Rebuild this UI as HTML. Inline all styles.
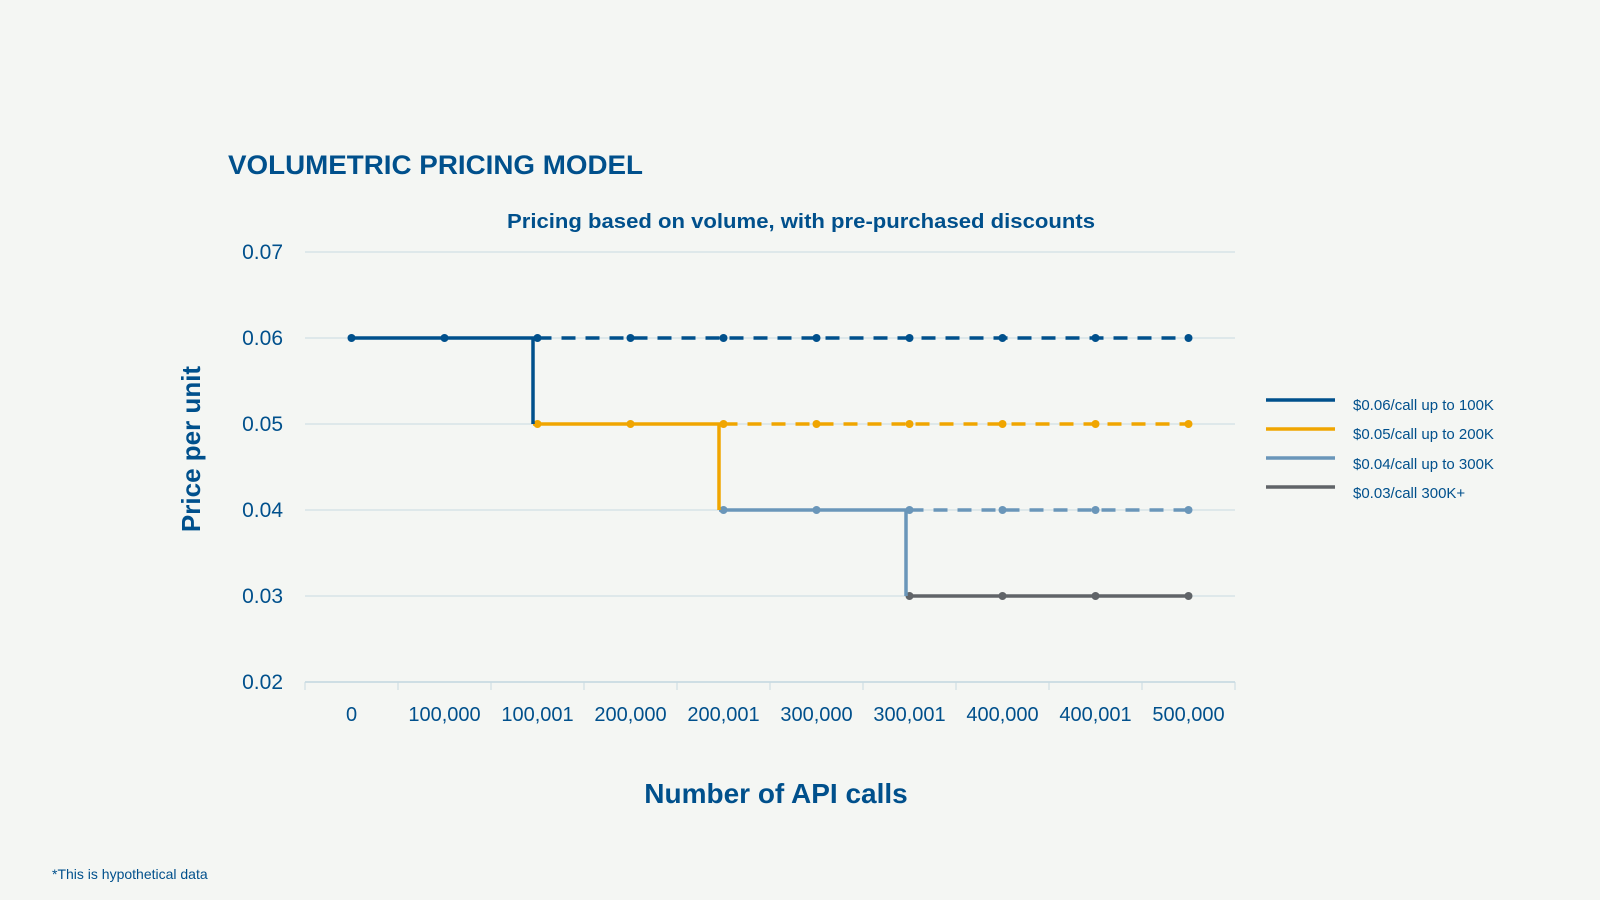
<!DOCTYPE html>
<html><head><meta charset="utf-8"><style>
html,body{margin:0;padding:0;background:#f4f6f3;}
svg{display:block;font-family:"Liberation Sans",sans-serif;}
</style></head><body>
<svg width="1600" height="900" viewBox="0 0 1600 900">
<rect width="1600" height="900" fill="#f4f6f3"/>
<text x="228" y="174" font-size="27" font-weight="bold" fill="#00508c" textLength="415" lengthAdjust="spacingAndGlyphs">VOLUMETRIC PRICING MODEL</text>
<text x="801" y="228" font-size="20" font-weight="bold" fill="#00508c" text-anchor="middle" textLength="588" lengthAdjust="spacingAndGlyphs">Pricing based on volume, with pre-purchased discounts</text>
<g stroke="#c8dae2" stroke-width="1">
<line x1="305" y1="252" x2="1235" y2="252"/>
<line x1="305" y1="338" x2="1235" y2="338"/>
<line x1="305" y1="424" x2="1235" y2="424"/>
<line x1="305" y1="510" x2="1235" y2="510"/>
<line x1="305" y1="596" x2="1235" y2="596"/>
<line x1="305" y1="682" x2="1235" y2="682" stroke="#a9c6d6"/>
<line x1="305" y1="682" x2="305" y2="690"/><line x1="398" y1="682" x2="398" y2="690"/><line x1="491" y1="682" x2="491" y2="690"/><line x1="584" y1="682" x2="584" y2="690"/><line x1="677" y1="682" x2="677" y2="690"/><line x1="770" y1="682" x2="770" y2="690"/><line x1="863" y1="682" x2="863" y2="690"/><line x1="956" y1="682" x2="956" y2="690"/><line x1="1049" y1="682" x2="1049" y2="690"/><line x1="1142" y1="682" x2="1142" y2="690"/><line x1="1235" y1="682" x2="1235" y2="690"/>
</g>
<g font-size="21" fill="#00508c" text-anchor="end">
<text x="283" y="259">0.07</text><text x="283" y="345">0.06</text><text x="283" y="431">0.05</text><text x="283" y="517">0.04</text><text x="283" y="603">0.03</text><text x="283" y="689">0.02</text>
</g>
<g font-size="20" fill="#00508c" text-anchor="middle">
<text x="351.5" y="721">0</text><text x="444.5" y="721">100,000</text><text x="537.5" y="721">100,001</text><text x="630.5" y="721">200,000</text><text x="723.5" y="721">200,001</text><text x="816.5" y="721">300,000</text><text x="909.5" y="721">300,001</text><text x="1002.5" y="721">400,000</text><text x="1095.5" y="721">400,001</text><text x="1188.5" y="721">500,000</text>
</g>
<text x="776" y="803" font-size="28" font-weight="bold" fill="#00508c" text-anchor="middle">Number of API calls</text>
<text transform="translate(200,449) rotate(-90)" font-size="26" font-weight="bold" fill="#00508c" text-anchor="middle">Price per unit</text>
<g stroke="#606468" stroke-width="3.5" fill="none"><line x1="906" y1="596" x2="1188.5" y2="596"/></g>
<g fill="#606468"><circle cx="909.5" cy="596" r="4"/><circle cx="1002.5" cy="596" r="4"/><circle cx="1095.5" cy="596" r="4"/><circle cx="1188.5" cy="596" r="4"/></g>
<g stroke="#6a96b9" stroke-width="3.5" fill="none">
<line x1="719" y1="510" x2="909.5" y2="510"/><line x1="906" y1="510" x2="906" y2="596"/>
<line x1="909.5" y1="510" x2="1188.5" y2="510" stroke-dasharray="14,10"/></g>
<g fill="#6a96b9"><circle cx="723.5" cy="510" r="4"/><circle cx="816.5" cy="510" r="4"/><circle cx="909.5" cy="510" r="4"/><circle cx="1002.5" cy="510" r="4"/><circle cx="1095.5" cy="510" r="4"/><circle cx="1188.5" cy="510" r="4"/></g>
<g stroke="#f0a500" stroke-width="3.5" fill="none">
<line x1="533" y1="424" x2="723.5" y2="424"/><line x1="719" y1="424" x2="719" y2="510"/>
<line x1="723.5" y1="424" x2="1188.5" y2="424" stroke-dasharray="14,10"/></g>
<g fill="#f0a500"><circle cx="537.5" cy="424" r="4"/><circle cx="630.5" cy="424" r="4"/><circle cx="723.5" cy="424" r="4"/><circle cx="816.5" cy="424" r="4"/><circle cx="909.5" cy="424" r="4"/><circle cx="1002.5" cy="424" r="4"/><circle cx="1095.5" cy="424" r="4"/><circle cx="1188.5" cy="424" r="4"/></g>
<g stroke="#00508c" stroke-width="3.5" fill="none">
<line x1="351.5" y1="338" x2="537.5" y2="338"/><line x1="533" y1="338" x2="533" y2="424"/>
<line x1="537.5" y1="338" x2="1188.5" y2="338" stroke-dasharray="14,10"/></g>
<g fill="#00508c"><circle cx="351.5" cy="338" r="4"/><circle cx="444.5" cy="338" r="4"/><circle cx="537.5" cy="338" r="4"/><circle cx="630.5" cy="338" r="4"/><circle cx="723.5" cy="338" r="4"/><circle cx="816.5" cy="338" r="4"/><circle cx="909.5" cy="338" r="4"/><circle cx="1002.5" cy="338" r="4"/><circle cx="1095.5" cy="338" r="4"/><circle cx="1188.5" cy="338" r="4"/></g>
<g stroke-width="3.5">
<line x1="1266" y1="400" x2="1335" y2="400" stroke="#00508c"/>
<line x1="1266" y1="429" x2="1335" y2="429" stroke="#f0a500"/>
<line x1="1266" y1="458" x2="1335" y2="458" stroke="#6a96b9"/>
<line x1="1266" y1="487" x2="1335" y2="487" stroke="#606468"/>
</g>
<g font-size="15" fill="#00508c">
<text x="1353" y="410">$0.06/call up to 100K</text>
<text x="1353" y="439">$0.05/call up to 200K</text>
<text x="1353" y="469">$0.04/call up to 300K</text>
<text x="1353" y="498">$0.03/call 300K+</text>
</g>
<text x="52" y="879" font-size="14" fill="#00508c">*This is hypothetical data</text>
</svg>
</body></html>
